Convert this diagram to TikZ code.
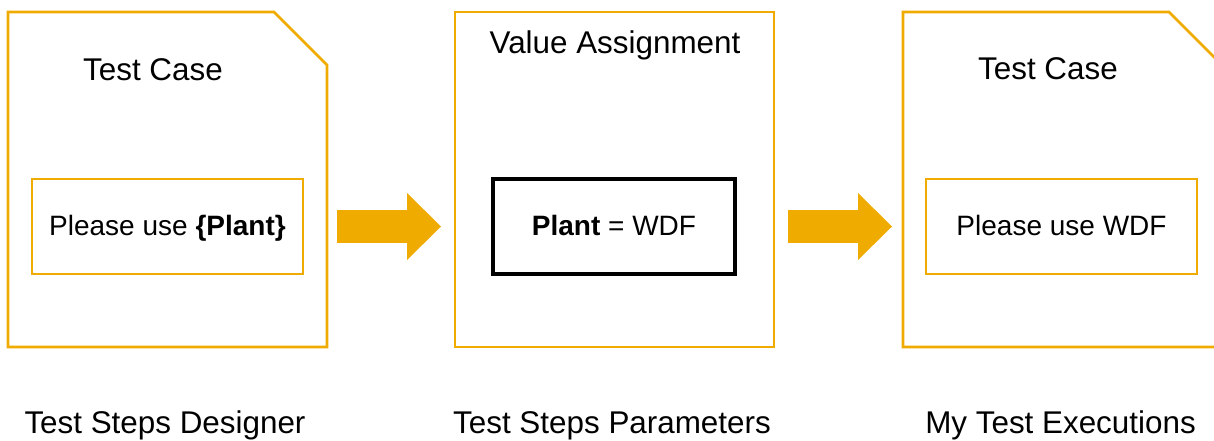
\documentclass[tikz,border=0pt]{standalone}
\usepackage{fontspec}
\setmainfont{Liberation Sans}
\usepackage{xcolor}
\usepackage{tikz}
\usetikzlibrary{arrows.meta,positioning}

\definecolor{gold}{RGB}{240,171,0}

\begin{document}
\begin{tikzpicture}[
    x=0.5pt, y=-0.5pt,
    title/.style={font=\fontsize{15.7}{18}\selectfont, anchor=base, inner sep=0pt},
    panel/.style={minimum width=159.5pt, minimum height=167.5pt, inner sep=0pt, outer sep=0pt},
    outline/.style={draw=gold, line width=1.3pt},
    slot/.style={draw=gold, line width=1.3pt, minimum height=47.5pt, inner sep=0pt, outer sep=0pt, text height=11pt, text depth=2.5pt, font=\fontsize{14}{17}\selectfont},
    value/.style={draw=black, line width=1.8pt, minimum height=47.5pt, inner sep=0pt, outer sep=0pt, text height=11pt, text depth=2.5pt, font=\fontsize{14}{17}\selectfont},
    flow/.style={draw=gold, line width=16.5pt, -{Triangle[length=17pt, width=33.5pt, line width=0pt]}}
]
\useasboundingbox (0,0) rectangle (1214,440);
\clip (0,0) rectangle (1214,440);

\node[panel] (designer) at (167.5,179.5) {};
\node[panel] (params) at (614.5,179.5) {};
\node[panel] (runs) at (1062.5,179.5) {};

\draw[outline] (designer.north west) -- ([xshift=-26.5pt]designer.north east) -- ([yshift=-26.5pt]designer.north east) -- (designer.south east) -- (designer.south west) -- cycle;
\draw[outline] (params.north west) rectangle (params.south east);
\draw[outline] (runs.north west) -- ([xshift=-26.5pt]runs.north east) -- ([yshift=-26.5pt]runs.north east) -- (runs.south east) -- (runs.south west) -- cycle;

\node[title] (case1) at (153,80) {Test Case};
\node[title] (assign) at (615,53) {Value Assignment};
\node[title] (case2) at (1048,79) {Test Case};

\node[slot, minimum width=135.5pt] (use1) at (167.5,226.5) {Please use \textbf{\{Plant\}}};
\node[value, minimum width=121pt] (plant) at (614,226.5) {\textbf{Plant} = WDF};
\node[slot, minimum width=135.5pt] (use2) at (1061.5,226.5) {Please use WDF};

\node[title] (lab1) at (165,433) {Test Steps Designer};
\node[title] (lab2) at (612,433) {Test Steps Parameters};
\node[title] (lab3) at (1060.5,433) {My Test Executions};

\draw[flow] ([xshift=5pt]designer.east |- use1.center) -- ([xshift=-7pt]params.west |- plant.center);
\draw[flow] ([xshift=7pt]params.east |- plant.center) -- ([xshift=-5.5pt]runs.west |- use2.center);
\end{tikzpicture}
\end{document}
